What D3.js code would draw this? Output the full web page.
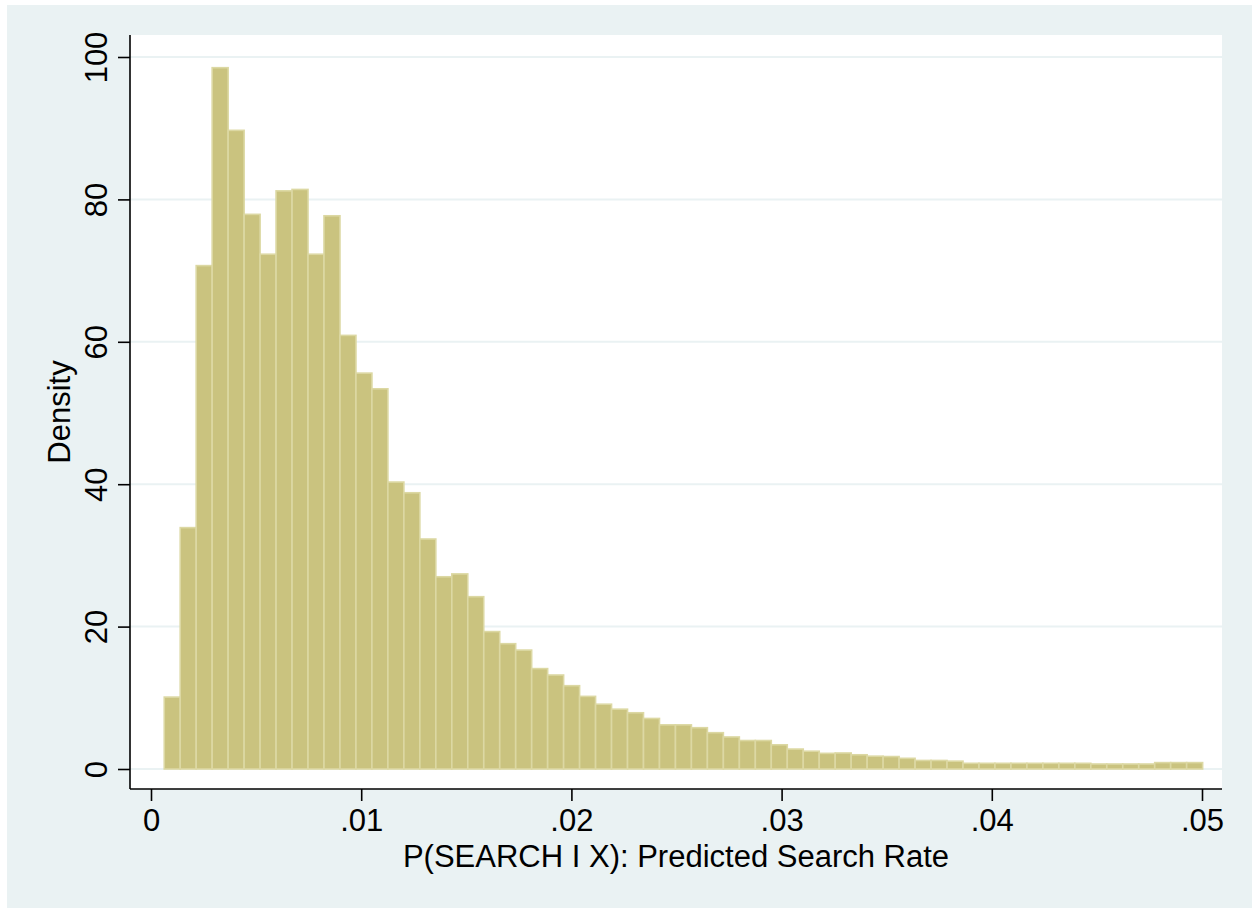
<!DOCTYPE html>
<html>
<head>
<meta charset="utf-8">
<script src="https://cdn.jsdelivr.net/npm/d3@7/dist/d3.min.js"></script>
<style>
  html, body { margin: 0; padding: 0; background: #ffffff; }
  svg { display: block; }
  text { font-family: "Liberation Sans", Arial, Helvetica, sans-serif; fill: #000; }
</style>
</head>
<body>
<svg id="chart" width="1252" height="909"></svg>
<script>
// ---- data ----
const densities = [
  10.1, 33.9, 70.7, 98.5, 89.7, 77.9, 72.3, 81.2, 81.4, 72.3,
  77.7, 60.9, 55.6, 53.4, 40.3, 38.8, 32.3, 27.0, 27.4, 24.2,
  19.3, 17.6, 16.7, 14.1, 13.2, 11.7, 10.2, 9.1, 8.4, 7.9,
  7.1, 6.2, 6.2, 5.8, 5.1, 4.5, 4.0, 4.0, 3.4, 2.8,
  2.5, 2.2, 2.25, 2.0, 1.8, 1.75, 1.5, 1.2, 1.2, 1.1,
  0.8, 0.8, 0.8, 0.8, 0.8, 0.8, 0.8, 0.8, 0.7, 0.7,
  0.7, 0.7, 0.9, 0.9, 0.9
];
const binStart = 0.00063;
const binWidth = 0.00076;
const xTickValues = [0, 0.01, 0.02, 0.03, 0.04, 0.05];
const xTickLabels = ["0", ".01", ".02", ".03", ".04", ".05"];
const yTickValues = [0, 20, 40, 60, 80, 100];
const yTickLabels = ["0", "20", "40", "60", "80", "100"];
const xTitle = "P(SEARCH I X): Predicted Search Rate";
const yTitle = "Density";

// ---- layout ----
const svg = d3.select("#chart");
const plot = { left: 130, right: 1222, top: 35, bottom: 789 };
const x = d3.scaleLinear().domain([0, 0.05]).range([151, 1202]);
const y = d3.scaleLinear().domain([0, 100]).range([769, 57]);

const bgColor = "#eaf2f3";
const fontSize = 31;

// outer graph region
svg.append("rect").attr("x", 7).attr("y", 5).attr("width", 1245).attr("height", 903)
  .attr("fill", bgColor);
// plot region
svg.append("rect").attr("x", plot.left).attr("y", plot.top)
  .attr("width", plot.right - plot.left).attr("height", plot.bottom - plot.top)
  .attr("fill", "#ffffff");

// gridlines
svg.append("g").selectAll("line").data(yTickValues).join("line")
  .attr("x1", plot.left).attr("x2", plot.right)
  .attr("y1", d => y(d)).attr("y2", d => y(d))
  .attr("stroke", bgColor).attr("stroke-width", 2);

// bars
svg.append("g").selectAll("rect").data(densities).join("rect")
  .attr("x", (d, i) => x(binStart + i * binWidth))
  .attr("width", (d, i) => x(binStart + (i + 1) * binWidth) - x(binStart + i * binWidth))
  .attr("y", d => y(d))
  .attr("height", d => y(0) - y(d))
  .attr("fill", "#cac37f")
  .attr("stroke", "#dcd8a3")
  .attr("stroke-width", 1.6);

// axes
const xAxis = d3.axisBottom(x).tickValues(xTickValues)
  .tickFormat((d, i) => xTickLabels[i]).tickSize(12).tickPadding(8);
const gx = svg.append("g").attr("transform", `translate(0,${plot.bottom})`).call(xAxis);
gx.select(".domain").remove();
gx.selectAll(".tick line").attr("stroke", "#000").attr("stroke-width", 1.6);
gx.selectAll(".tick text").attr("font-size", fontSize)
  .attr("font-family", "'Liberation Sans', Arial, Helvetica, sans-serif")
  .attr("fill", "#000");

const yAxis = d3.axisLeft(y).tickValues(yTickValues)
  .tickFormat((d, i) => yTickLabels[i]).tickSize(12);
const gy = svg.append("g").attr("transform", `translate(${plot.left},0)`).call(yAxis);
gy.select(".domain").remove();
gy.selectAll(".tick line").attr("stroke", "#000").attr("stroke-width", 1.6);
gy.selectAll(".tick text")
  .attr("font-size", fontSize)
  .attr("font-family", "'Liberation Sans', Arial, Helvetica, sans-serif")
  .attr("fill", "#000")
  .attr("x", null).attr("dy", null)
  .attr("text-anchor", "middle")
  .attr("transform", "translate(-23,0) rotate(-90)");

// axis lines
svg.append("line").attr("x1", plot.left).attr("x2", plot.left)
  .attr("y1", plot.top).attr("y2", plot.bottom)
  .attr("stroke", "#000").attr("stroke-width", 1.6);
svg.append("line").attr("x1", plot.left).attr("x2", plot.right)
  .attr("y1", plot.bottom).attr("y2", plot.bottom)
  .attr("stroke", "#000").attr("stroke-width", 1.6);

// titles
svg.append("text").attr("x", (plot.left + plot.right) / 2).attr("y", 867)
  .attr("text-anchor", "middle").attr("font-size", fontSize).text(xTitle);
svg.append("text")
  .attr("transform", `translate(70,${(plot.top + plot.bottom) / 2}) rotate(-90)`)
  .attr("text-anchor", "middle").attr("font-size", fontSize).text(yTitle);
</script>
</body>
</html>
